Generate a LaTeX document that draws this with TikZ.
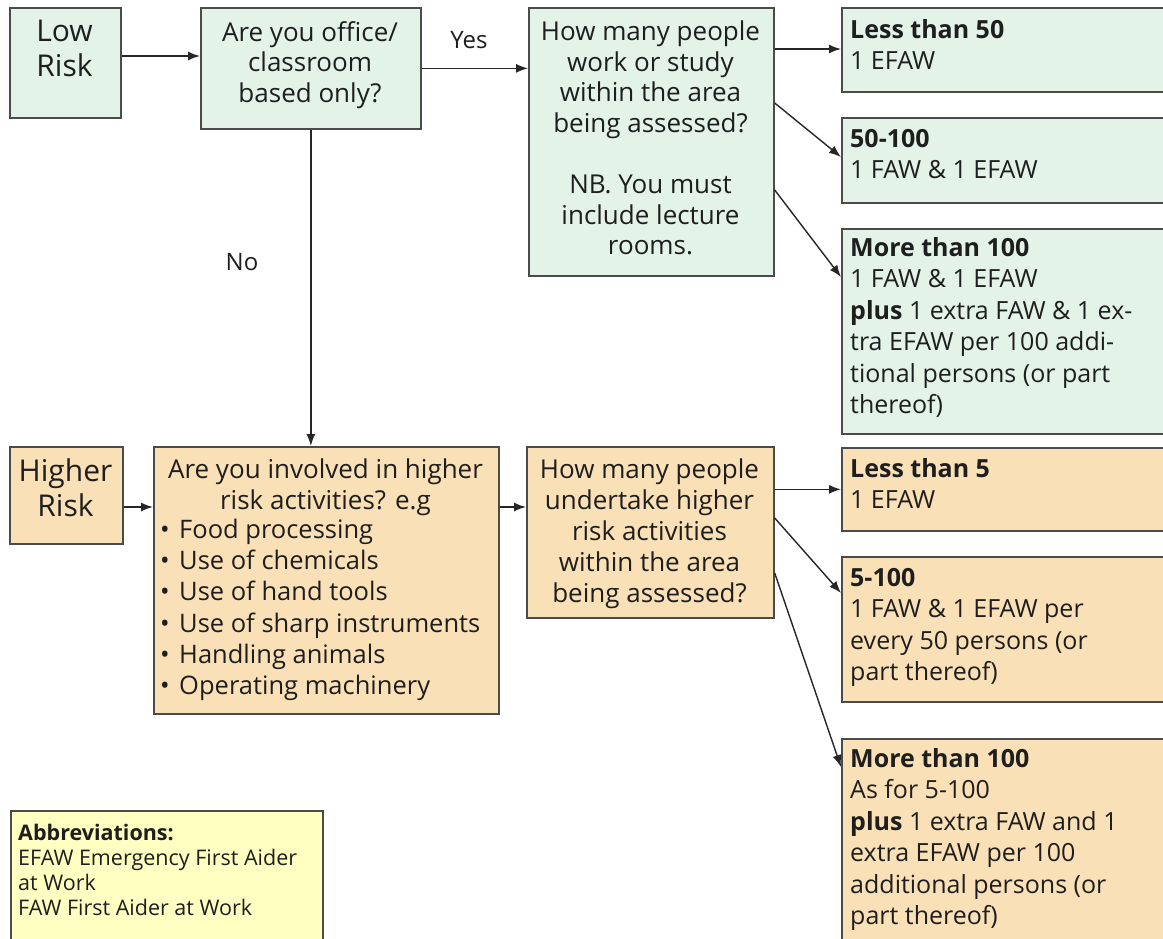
\documentclass[tikz,border=0pt]{standalone}
\usepackage{fontspec}
\setmainfont{Open Sans}
\usetikzlibrary{arrows.meta,calc}
\definecolor{gfill}{RGB}{227,243,232}
\definecolor{ofill}{RGB}{250,224,182}
\definecolor{yfill}{RGB}{255,255,194}
\definecolor{edge}{RGB}{75,75,75}
\definecolor{ink}{RGB}{30,30,30}
\begin{document}
\begin{tikzpicture}[x=1pt,y=-1pt,
  box/.style={draw=edge, line width=1.7pt, rectangle, inner sep=0pt, anchor=north west},
  gbox/.style={box, fill=gfill},
  obox/.style={box, fill=ofill},
  ybox/.style={box, fill=yfill},
  ctxt/.style={inner sep=0pt, text=ink, align=center, anchor=north, font=\fontsize{26}{30.5}\selectfont},
  bigtxt/.style={inner sep=0pt, text=ink, align=center, anchor=north, font=\fontsize{30}{35}\selectfont},
  ltxt/.style={inner sep=0pt, text=ink, align=left, anchor=north west, font=\fontsize{25}{31.5}\selectfont},
  smtxt/.style={inner sep=0pt, text=ink, align=left, anchor=north west, font=\fontsize{21.5}{25}\selectfont},
  lbl/.style={inner sep=0pt, text=ink, font=\fontsize{24}{28}\selectfont},
  arr/.style={-{Latex[length=12pt,width=9pt]}, line width=1.4pt, draw=black!85}
]
\clip (0,0) rectangle (1163,939);
\fill[white] (0,0) rectangle (1163,939);

% ---------- low risk row ----------
\node[gbox, minimum width=111pt, minimum height=110pt] (low) at (9,7) {};
\node[gbox, minimum width=220pt, minimum height=121pt] (q1) at (200,7) {};
\node[gbox, minimum width=245pt, minimum height=268pt] (q2) at (528,7) {};
\node[gbox, minimum width=340pt, minimum height=84pt] (r1) at (841,7) {};
\node[gbox, minimum width=340pt, minimum height=85pt] (r2) at (841,117) {};
\node[gbox, minimum width=340pt, minimum height=205pt] (r3) at (841,228) {};

\node[bigtxt] (tlow) at (64.5,20) {Low\\Risk};
\node[ctxt] (tq1) at (310,21) {Are you office/\\classroom\\based only?};
\node[ctxt] (tq2) at (650.5,21) {How many people\\work or study\\within the area\\being assessed?\\[31pt]NB. You must\\include lecture\\rooms.};
\node[ltxt] (tr1) at (850,19) {{\bfseries Less than 50}\\1 EFAW};
\node[ltxt] (tr2) at (850,129) {{\bfseries 50-100}\\1 FAW \& 1 EFAW};
\node[ltxt] (tr3) at (850,237) {{\bfseries More than 100}\\1 FAW \& 1 EFAW\\{\bfseries plus} 1 extra FAW \& 1 ex-\\tra EFAW per 100 addi-\\tional persons (or part\\thereof)};

% ---------- higher risk row ----------
\node[obox, minimum width=113pt, minimum height=97pt] (high) at (9,446) {};
\node[obox, minimum width=345pt, minimum height=267pt] (q3) at (153,446) {};
\node[obox, minimum width=247pt, minimum height=171pt] (q4) at (526,446) {};
\node[obox, minimum width=340pt, minimum height=83pt] (s1) at (841,447) {};
\node[obox, minimum width=340pt, minimum height=145pt] (s2) at (841,556) {};
\node[obox, minimum width=340pt, minimum height=260pt] (s3) at (841,738) {};

\node[bigtxt] (thigh) at (65.5,459) {Higher\\Risk};
\node[ctxt] (tq3) at (325.5,459) {Are you involved in higher\\risk activities? e.g};
\node[inner sep=0pt, text=ink, align=left, anchor=north west, font=\fontsize{25.5}{31.2}\selectfont] (tq3list) at (160,519)
  {\hbox to 19pt{•\hss}Food processing\\
   \hbox to 19pt{•\hss}Use of chemicals\\
   \hbox to 19pt{•\hss}Use of hand tools\\
   \hbox to 19pt{•\hss}Use of sharp instruments\\
   \hbox to 19pt{•\hss}Handling animals\\
   \hbox to 19pt{•\hss}Operating machinery};
\node[ctxt, font=\fontsize{26}{30.8}\selectfont] (tq4) at (649.5,459) {How many people\\undertake higher\\risk activities\\within the area\\being assessed?};
\node[ltxt] (ts1) at (850,458) {{\bfseries Less than 5}\\1 EFAW};
\node[ltxt] (ts2) at (850,568) {{\bfseries 5-100}\\1 FAW \& 1 EFAW per\\every 50 persons (or\\part thereof)};
\node[ltxt] (ts3) at (850,748) {{\bfseries More than 100}\\As for 5-100\\{\bfseries plus} 1 extra FAW and 1\\extra EFAW per 100\\additional persons (or\\part thereof)};

% ---------- abbreviations ----------
\node[ybox, minimum width=312pt, minimum height=180pt] (abbr) at (10,810) {};
\node[smtxt] (tabbr) at (18,824) {{\bfseries Abbreviations:}\\EFAW Emergency First Aider\\at Work\\FAW First Aider at Work};

% ---------- labels ----------
\node[lbl] (yes) at (469,40) {Yes};
\node[lbl] (no) at (242,262) {No};

% ---------- connectors ----------
\coordinate (ya) at (0,56);
\coordinate (yb) at (0,49);
\coordinate (yc) at (0,103);
\coordinate (yd) at (0,157);
\coordinate (ye) at (0,190);
\coordinate (yf) at (0,277);
\coordinate (yg) at (0,507);
\coordinate (yh) at (0,518);
\coordinate (yi) at (0,593);
\coordinate (yj) at (0,573);
\coordinate (yk) at (0,767);

\draw[arr] (low.east |- ya) -- (q1.west |- ya);
\draw[arr] (q1.east) -- (q1.east -| q2.west);
\draw[arr] (q2.east |- yb) -- (r1.west |- yb);
\draw[arr] (q2.east |- yc) -- (r2.west |- yd);
\draw[arr] (q2.east |- ye) -- (r3.west |- yf);
\draw[arr] (q1.south) -- (q1.south |- q3.north);
\draw[arr] (high.east |- yg) -- (q3.west |- yg);
\draw[arr] (q3.east |- yg) -- (q4.west |- yg);
\draw[arr] (q4.east |- s1.west) -- (s1.west);
\draw[arr] (q4.east |- yh) -- (s2.west |- yi);
\draw[arr] (q4.east |- yj) -- (s3.west |- yk);
\end{tikzpicture}
\end{document}
